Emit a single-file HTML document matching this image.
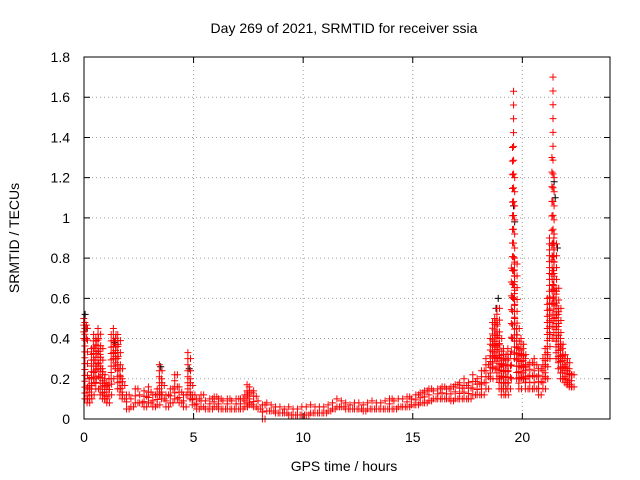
<!DOCTYPE html>
<html><head><meta charset="utf-8"><style>
body{margin:0;background:#fff}
svg{display:block;font-family:"Liberation Sans",sans-serif}
</style></head><body>
<svg id="c" width="640" height="480">
<text x="344" y="33" font-size="14" text-anchor="middle">Day 269 of 2021, SRMTID for receiver ssia</text>
<text x="344" y="471" font-size="14" text-anchor="middle">GPS time / hours</text>
<text transform="translate(19,238) rotate(-90)" font-size="14" text-anchor="middle">SRMTID / TECUs</text>
<g id="grid"></g><g id="ticks"></g><g id="marks"></g>
<rect x="84" y="57" width="526" height="362" fill="none" stroke="#000"/>
</svg>
<script>
const hours=[0.05,0.1,0.2,0.3,0.4,0.5,0.6,0.7,0.8,0.9,1.0,1.1,1.2,1.3,1.4,1.5,1.6,1.7,1.8,2.0,2.2,2.4,2.6,2.8,3.0,3.2,3.4,3.5,3.6,3.8,4.0,4.2,4.4,4.6,4.8,4.9,5.0,5.2,5.4,5.6,5.8,6.0,6.2,6.4,6.6,6.8,7.0,7.2,7.4,7.5,7.6,7.8,8.0,8.2,8.4,8.6,8.8,9.0,9.2,9.4,9.6,9.8,10.0,10.2,10.4,10.6,10.8,11.0,11.2,11.4,11.6,11.8,12.0,12.2,12.4,12.6,12.8,13.0,13.2,13.4,13.6,13.8,14.0,14.2,14.4,14.6,14.8,15.0,15.2,15.4,15.6,15.8,16.0,16.2,16.4,16.6,16.8,17.0,17.2,17.4,17.6,17.8,18.0,18.2,18.4,18.6,18.7,18.8,18.9,19.0,19.1,19.2,19.3,19.4,19.5,19.55,19.6,19.65,19.7,19.8,19.9,20.0,20.1,20.2,20.4,20.6,20.8,21.0,21.1,21.2,21.3,21.35,21.4,21.45,21.5,21.6,21.7,21.8,21.9,22.0,22.1,22.2,22.3];
const upper=[.5,.48,.15,.2,.35,.42,.4,.45,.35,.25,.2,.18,.2,.42,.45,.4,.42,.25,.2,.12,.1,.15,.12,.14,.16,.12,.15,.27,.2,.12,.15,.22,.16,.12,.33,.2,.12,.1,.12,.09,.1,.11,.1,.09,.1,.09,.1,.1,.12,.17,.16,.14,.09,.07,.08,.07,.06,.06,.05,.06,.05,.05,.06,.06,.07,.06,.06,.06,.07,.08,.1,.09,.08,.07,.08,.08,.07,.08,.09,.08,.08,.09,.1,.09,.1,.1,.11,.1,.12,.13,.14,.15,.14,.15,.16,.15,.16,.17,.18,.2,.18,.22,.2,.24,.3,.4,.48,.5,.55,.4,.3,.35,.3,.35,.75,1.35,1.63,1.2,.8,.45,.35,.4,.35,.3,.28,.3,.25,.3,.35,.6,.9,1.3,1.7,1.2,.9,.65,.55,.4,.35,.3,.28,.25,.22];
const lower=[.4,.1,.08,.1,.12,.2,.15,.25,.12,.1,.1,.08,.12,.2,.3,.25,.15,.12,.1,.05,.06,.08,.08,.06,.08,.06,.07,.12,.1,.06,.08,.1,.08,.06,.12,.1,.07,.05,.06,.05,.05,.06,.05,.05,.05,.05,.05,.05,.06,.08,.07,.06,.05,0,.04,.04,.03,.03,.03,.02,.02,.02,.02,.02,.03,.03,.03,.03,.04,.05,.06,.06,.05,.05,.05,.05,.04,.05,.05,.05,.05,.05,.05,.05,.06,.06,.06,.07,.07,.08,.08,.09,.1,.1,.1,.1,.09,.1,.1,.1,.1,.12,.12,.12,.15,.2,.25,.3,.2,.15,.12,.15,.12,.15,.2,.4,.6,.5,.3,.2,.15,.2,.2,.15,.15,.15,.12,.15,.2,.3,.4,.5,.6,.5,.4,.3,.25,.2,.2,.18,.17,.16,.16];
const blackHours=[0.05,0.1,1.4,3.5,4.8,18.8,18.9,19.6,19.65,21.45,21.5,21.6];
const blackValues=[.52,.45,.38,.26,.25,.55,.6,1.06,.98,1.18,1.1,.85];
const xTicks=[0,5,10,15,20];
const yTicks=[0,0.2,0.4,0.6,0.8,1,1.2,1.4,1.6,1.8];
const yTickLabels=["0","0.2","0.4","0.6","0.8","1","1.2","1.4","1.6","1.8"];
const X0=84,X1=610,Y0=419,Y1=57,XMAX=24,YMAX=1.8;
const sx=t=>X0+t*(X1-X0)/XMAX, sy=v=>Y0-v*(Y0-Y1)/YMAX;
const NS="http://www.w3.org/2000/svg";
function mk(tag,attrs,parent){const e=document.createElementNS(NS,tag);for(const k in attrs)e.setAttribute(k,attrs[k]);parent.appendChild(e);return e;}
const grid=document.getElementById('grid'),ticks=document.getElementById('ticks'),marks=document.getElementById('marks');
xTicks.forEach(t=>{const x=sx(t);
 if(t>0){const g=mk('line',{x1:x,x2:x,y1:Y0,y2:Y1,stroke:'#a0a0a0','stroke-dasharray':'1,3'},grid);
 
 }
 const tk=mk('path',{d:`M${x},${Y0}v-6M${x},${Y1}v6`,stroke:'#000'},ticks);
 
 
 const lb=mk('text',{x:x,y:Y0+23,'font-size':14,'text-anchor':'middle'},ticks);lb.textContent=t;
 
 
});
yTicks.forEach((v,i)=>{const y=sy(v);
 if(v>0&&v<YMAX){const g=mk('line',{x1:X0,x2:X1,y1:y,y2:y,stroke:'#a0a0a0','stroke-dasharray':'1,3'},grid);
 
 }
 const tk=mk('path',{d:`M${X0},${y}h6M${X1},${y}h-6`,stroke:'#000'},ticks);
 
 
 const lb=mk('text',{x:X0-14,y:y+5,'font-size':14,'text-anchor':'end'},ticks);lb.textContent=yTickLabels[i];
 
 
});
function cross(t,v,col,name){const x=sx(t),y=sy(v);
 const p=mk('path',{d:`M${x-3.5},${y}h7M${x},${y-3.5}v7`,stroke:col,'stroke-width':1},marks);
 
 }
blackHours.forEach((t,i)=>cross(t,blackValues[i],'#000','black-point'));
const n=Math.min(hours.length,upper.length,lower.length);
for(let i=0;i<n;i++){const lo=lower[i],hi=upper[i];
 const range=hi-lo;
 const step=range>0.5?0.07:0.03;
 const steps=Math.max(1,Math.round(range/step));
 const offs=range>0.5?[0]:[-0.06,0.06];
 offs.forEach((o,j)=>{
  for(let k=0;k<=steps;k++){
   if(j===1&&k%2===1)continue;
   cross(hours[i]+o,lo+range*k/steps,'#ff0000','red-point');}
 });
}
</script>
</body></html>
